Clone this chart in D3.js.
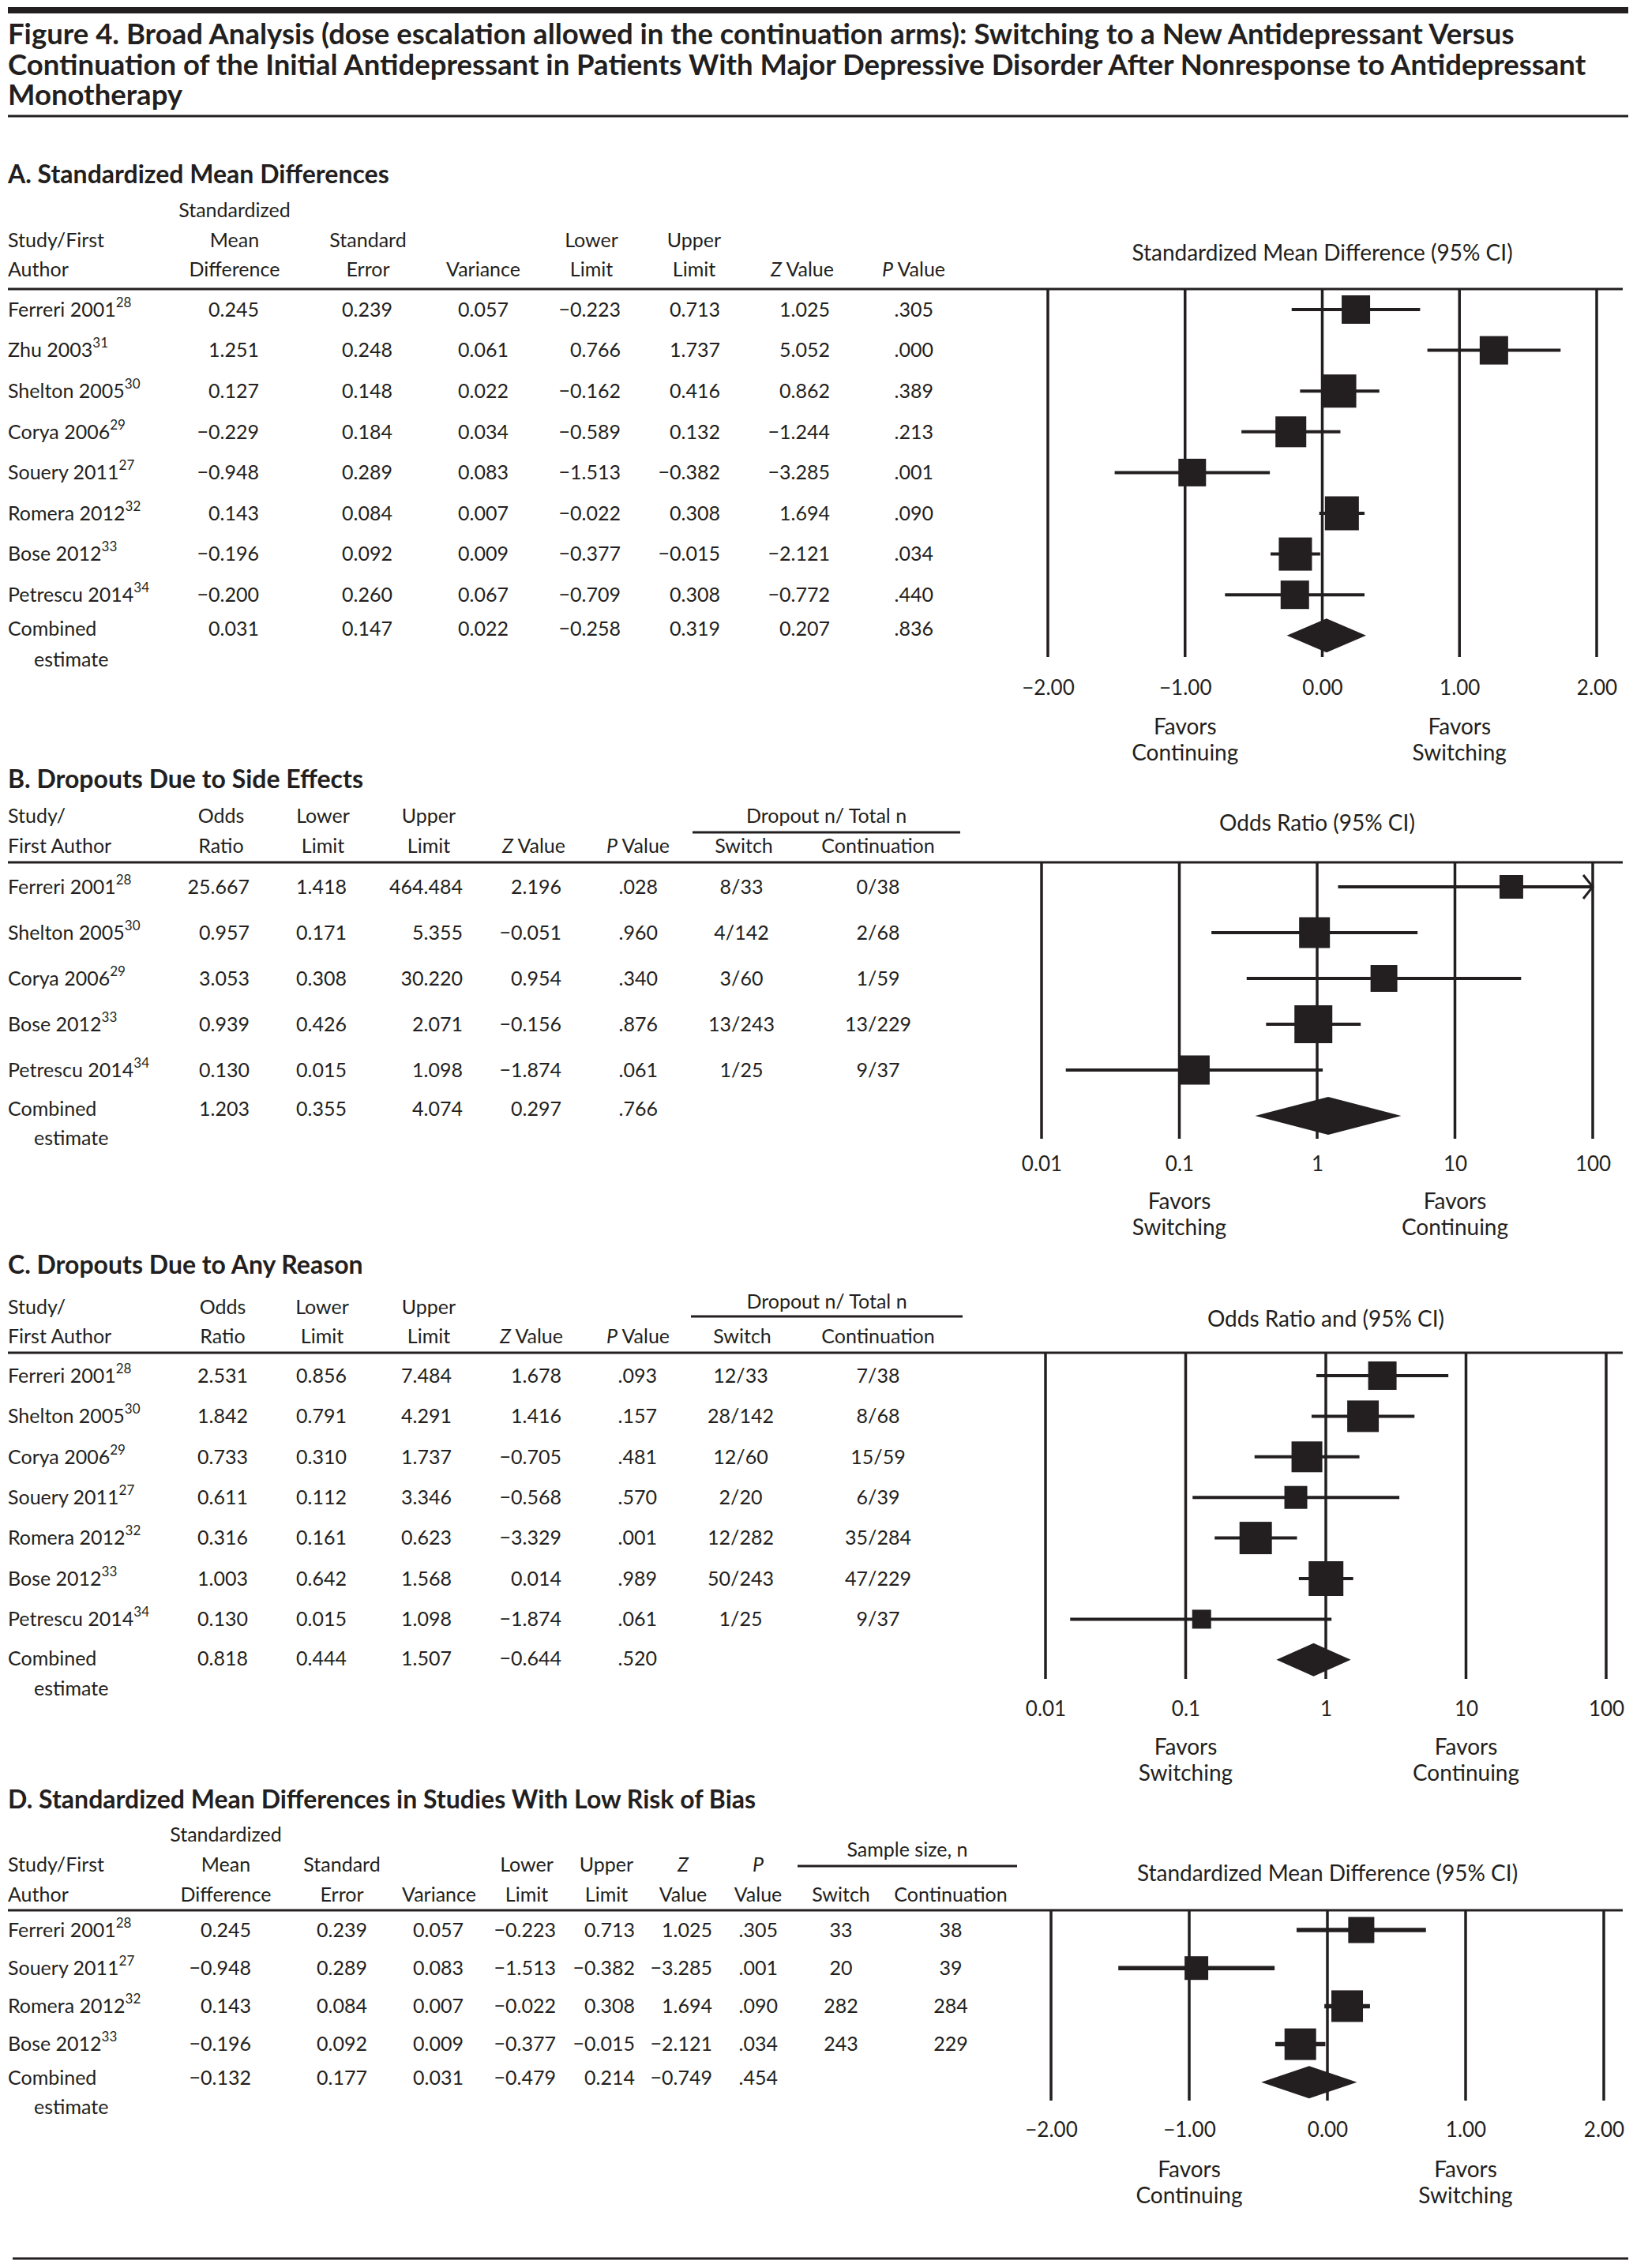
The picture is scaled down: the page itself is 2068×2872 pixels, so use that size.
<!DOCTYPE html>
<html>
<head>
<meta charset="utf-8">
<script src="https://cdn.jsdelivr.net/npm/d3@7"></script>
<style>
  body { margin: 0; background: #fff; }
</style>
</head>
<body>
<div id="chart"></div>
<script>
// ---------- data ----------
const titleLines = [
  "Figure 4. Broad Analysis (dose escalation allowed in the continuation arms): Switching to a New Antidepressant Versus",
  "Continuation of the Initial Antidepressant in Patients With Major Depressive Disorder After Nonresponse to Antidepressant",
  "Monotherapy"
];

// A. standardized mean differences
const aStudy = ["Ferreri 2001", "Zhu 2003", "Shelton 2005", "Corya 2006", "Souery 2011", "Romera 2012", "Bose 2012", "Petrescu 2014"];
const aRef = ["28", "31", "30", "29", "27", "32", "33", "34"];
const aSmd = [0.245, 1.251, 0.127, -0.229, -0.948, 0.143, -0.196, -0.200];
const aSe = [0.239, 0.248, 0.148, 0.184, 0.289, 0.084, 0.092, 0.260];
const aVar = [0.057, 0.061, 0.022, 0.034, 0.083, 0.007, 0.009, 0.067];
const aLow = [-0.223, 0.766, -0.162, -0.589, -1.513, -0.022, -0.377, -0.709];
const aUpp = [0.713, 1.737, 0.416, 0.132, -0.382, 0.308, -0.015, 0.308];
const aZ = [1.025, 5.052, 0.862, -1.244, -3.285, 1.694, -2.121, -0.772];
const aP = [0.305, 0.000, 0.389, 0.213, 0.001, 0.090, 0.034, 0.440];
const aWeight = [10.8, 10.8, 14.7, 12.7, 10.2, 15.4, 14.7, 10.8]; // relative, from box sizes
const aComb = [0.031, 0.147, 0.022, -0.258, 0.319, 0.207, 0.836]; // smd se var low upp z p

// B. dropouts due to side effects
const bStudy = ["Ferreri 2001", "Shelton 2005", "Corya 2006", "Bose 2012", "Petrescu 2014"];
const bRef = ["28", "30", "29", "33", "34"];
const bOr = [25.667, 0.957, 3.053, 0.939, 0.130];
const bLow = [1.418, 0.171, 0.308, 0.426, 0.015];
const bUpp = [464.484, 5.355, 30.220, 2.071, 1.098];
const bZ = [2.196, -0.051, 0.954, -0.156, -1.874];
const bP = [0.028, 0.960, 0.340, 0.876, 0.061];
const bSwitchN = [8, 4, 3, 13, 1];
const bSwitchTot = [33, 142, 60, 243, 25];
const bContN = [0, 2, 1, 13, 9];
const bContTot = [38, 68, 59, 229, 37];
const bWeight = [12.4, 21.0, 15.9, 31.8, 18.9];
const bComb = [1.203, 0.355, 4.074, 0.297, 0.766]; // or low upp z p

// C. dropouts due to any reason
const cStudy = ["Ferreri 2001", "Shelton 2005", "Corya 2006", "Souery 2011", "Romera 2012", "Bose 2012", "Petrescu 2014"];
const cRef = ["28", "30", "29", "27", "32", "33", "34"];
const cOr = [2.531, 1.842, 0.733, 0.611, 0.316, 1.003, 0.130];
const cLow = [0.856, 0.791, 0.310, 0.112, 0.161, 0.642, 0.015];
const cUpp = [7.484, 4.291, 1.737, 3.346, 0.623, 1.568, 1.098];
const cZ = [1.678, 1.416, -0.705, -0.568, -3.329, 0.014, -1.874];
const cP = [0.093, 0.157, 0.481, 0.570, 0.001, 0.989, 0.061];
const cSwitchN = [12, 28, 12, 2, 12, 50, 1];
const cSwitchTot = [33, 142, 60, 20, 282, 243, 25];
const cContN = [7, 8, 15, 6, 35, 47, 9];
const cContTot = [38, 68, 59, 39, 284, 229, 37];
const cWeight = [13.7, 16.9, 16.1, 8.9, 17.8, 20.5, 6.1];
const cComb = [0.818, 0.444, 1.507, -0.644, 0.520];

// D. SMD, low risk of bias
const dStudy = ["Ferreri 2001", "Souery 2011", "Romera 2012", "Bose 2012"];
const dRef = ["28", "27", "32", "33"];
const dSmd = [0.245, -0.948, 0.143, -0.196];
const dSe = [0.239, 0.289, 0.084, 0.092];
const dVar = [0.057, 0.083, 0.007, 0.009];
const dLow = [-0.223, -1.513, -0.022, -0.377];
const dUpp = [0.713, -0.382, 0.308, -0.015];
const dZ = [1.025, -3.285, 1.694, -2.121];
const dP = [0.305, 0.001, 0.090, 0.034];
const dSwitchN = [33, 20, 282, 243];
const dContN = [38, 39, 284, 229];
const dWeight = [21.0, 17.3, 30.8, 30.8];
const dComb = [-0.132, 0.177, 0.031, -0.479, 0.214, -0.749, 0.454];

const smdTicks = [-2, -1, 0, 1, 2];
const orTicks = [0.01, 0.1, 1, 10, 100];

// ---------- setup ----------
const W = 2068, H = 2872;
const FONT = "Lato, 'Open Sans', sans-serif";
const INK = "#231f20";
const fmt3 = d3.format(".3f");
const fmtP = v => fmt3(v).replace(/^0/, "");
const frac = (n, t) => n.map((v, i) => v + "/" + t[i]);

const svg = d3.select("#chart").append("svg")
  .attr("width", W).attr("height", H)
  .attr("font-family", FONT)
  .attr("fill", INK);

const hline = (g, x1, x2, y, sw) => g.append("line")
  .attr("x1", x1).attr("x2", x2).attr("y1", y).attr("y2", y)
  .attr("stroke", INK).attr("stroke-width", sw);

// text with *italic* parts
function rich(g, s, x, y, anchor, size) {
  const t = g.append("text").attr("x", x).attr("y", y).attr("dy", "0.35em")
    .attr("text-anchor", anchor).attr("font-size", size);
  s.split("*").forEach((part, i) => {
    if (part) t.append("tspan").attr("font-style", i % 2 ? "italic" : null).text(part);
  });
  return t;
}

// title
hline(svg, 10, 2062, 13, 8);
titleLines.forEach((s, i) => {
  svg.append("text").attr("x", 10).attr("y", 56 + i * 38.5)
    .attr("font-size", 36.5).attr("font-weight", 700).text(s);
});
hline(svg, 10, 2062, 147, 3);

function drawPanel(p) {
  const g = svg.append("g");
  const rowY = i => p.rowY0 + i * p.step;

  g.append("text").attr("x", 10).attr("y", p.titleY).attr("dy", "0.35em")
    .attr("font-size", 32).attr("font-weight", 700).text(p.title);

  p.headers.forEach(([s, x, y, anchor]) => rich(g, s, x, y, anchor || "middle", 25));
  if (p.span) {
    rich(g, p.span.text, (p.span.x1 + p.span.x2) / 2, p.span.y, "middle", 25);
    hline(g, p.span.x1, p.span.x2, p.span.lineY, 3);
  }
  hline(g, 10, 2055, p.ruleY, 3);

  // study labels
  p.studies.forEach((s, i) => {
    const t = g.append("text").attr("x", 10).attr("y", rowY(i)).attr("dy", "0.35em").attr("font-size", 25);
    t.append("tspan").text(s);
    t.append("tspan").attr("font-size", 17).attr("dy", "-0.7em").text(p.refs[i]);
  });
  g.append("text").attr("x", 10).attr("y", p.combY).attr("dy", "0.35em").attr("font-size", 25).text("Combined");
  g.append("text").attr("x", 43).attr("y", p.estY).attr("dy", "0.35em").attr("font-size", 25).text("estimate");

  // numeric columns
  p.cols.forEach(c => {
    g.append("g").selectAll("text").data(c.vals).join("text")
      .attr("x", c.x).attr("y", (d, i) => rowY(i)).attr("dy", "0.35em")
      .attr("text-anchor", c.anchor || "end").attr("font-size", 25)
      .text(d => d);
    if (c.comb) {
      g.append("text").attr("x", c.x).attr("y", p.combY).attr("dy", "0.35em")
        .attr("text-anchor", c.anchor || "end").attr("font-size", 25).text(c.comb);
    }
  });

  // forest plot
  const q = p.plot, x = q.scale;
  const [dMin, dMax] = x.domain();
  const gp = g.append("g");

  gp.append("text").attr("x", x(q.center)).attr("y", q.titleY).attr("dy", "0.35em")
    .attr("text-anchor", "middle").attr("font-size", 28).text(q.title);

  gp.append("g").selectAll("line").data(q.ticks).join("line")
    .attr("x1", d => x(d)).attr("x2", d => x(d))
    .attr("y1", p.ruleY).attr("y2", q.gridBottom)
    .attr("stroke", INK).attr("stroke-width", 3.5);

  gp.append("g").attr("transform", `translate(0,${q.tickY})`)
    .call(d3.axisBottom(x).tickValues(q.ticks).tickFormat(q.fmt).tickSize(0).tickPadding(0))
    .call(a => a.select(".domain").remove())
    .call(a => a.selectAll("text").attr("y", 0).attr("dy", "0.35em")
      .attr("font-size", 26).attr("font-family", FONT).attr("fill", INK));

  q.favors.forEach(([v, l1, l2]) => {
    gp.append("text").attr("x", x(v)).attr("y", q.favorsY).attr("dy", "0.35em")
      .attr("text-anchor", "middle").attr("font-size", 28).text(l1);
    gp.append("text").attr("x", x(v)).attr("y", q.favorsY + 33).attr("dy", "0.35em")
      .attr("text-anchor", "middle").attr("font-size", 28).text(l2);
  });

  const rows = q.est.map((e, i) => ({ est: e, lo: q.lo[i], hi: q.hi[i], w: q.w[i], y: rowY(i) }));
  const size = d3.scaleSqrt().domain([0, d3.max(q.w)]).range([0, q.boxMax]);

  gp.append("g").selectAll("line").data(rows).join("line")
    .attr("x1", d => x(Math.max(d.lo, dMin))).attr("x2", d => x(Math.min(d.hi, dMax)))
    .attr("y1", d => d.y).attr("y2", d => d.y)
    .attr("stroke", INK).attr("stroke-width", q.ciW);

  // arrow where the interval runs past the axis
  gp.append("g").selectAll("path").data(rows.filter(d => d.hi > dMax)).join("path")
    .attr("d", d => `M${x(dMax) - 12},${d.y - 15}L${x(dMax)},${d.y}L${x(dMax) - 12},${d.y + 15}`)
    .attr("fill", "none").attr("stroke", INK).attr("stroke-width", 3);

  gp.append("g").selectAll("rect").data(rows).join("rect")
    .attr("x", d => x(d.est) - size(d.w) / 2).attr("y", d => d.y - size(d.w) / 2)
    .attr("width", d => size(d.w)).attr("height", d => size(d.w))
    .attr("fill", INK);

  const [ce, cl, ch] = q.comb;
  const cy = rowY(q.est.length), hh = q.diamondH / 2;
  gp.append("path")
    .attr("d", `M${x(cl)},${cy}L${x(ce)},${cy - hh}L${x(ch)},${cy}L${x(ce)},${cy + hh}Z`)
    .attr("fill", INK);
}

const smdFmt = d3.format(".2f");
const orFmt = d => String(d);

// ---------- A ----------
drawPanel({
  title: "A. Standardized Mean Differences", titleY: 221,
  headers: [
    ["Standardized", 297, 266],
    ["Study/First", 10, 304, "start"], ["Mean", 297, 304], ["Standard", 466, 304], ["Lower", 749, 304], ["Upper", 879, 304],
    ["Author", 10, 341, "start"], ["Difference", 297, 341], ["Error", 466, 341], ["Variance", 612, 341],
    ["Limit", 749, 341], ["Limit", 879, 341], ["*Z* Value", 1016, 341], ["*P* Value", 1157, 341]
  ],
  ruleY: 366, rowY0: 392, step: 51.6, combY: 796, estY: 835,
  studies: aStudy, refs: aRef,
  cols: [
    { x: 328, vals: aSmd.map(fmt3), comb: fmt3(aComb[0]) },
    { x: 497, vals: aSe.map(fmt3), comb: fmt3(aComb[1]) },
    { x: 644, vals: aVar.map(fmt3), comb: fmt3(aComb[2]) },
    { x: 786, vals: aLow.map(fmt3), comb: fmt3(aComb[3]) },
    { x: 912, vals: aUpp.map(fmt3), comb: fmt3(aComb[4]) },
    { x: 1051, vals: aZ.map(fmt3), comb: fmt3(aComb[5]) },
    { x: 1182, vals: aP.map(fmtP), comb: fmtP(aComb[6]) }
  ],
  plot: {
    scale: d3.scaleLinear().domain([-2, 2]).range([1327, 2022]),
    ticks: smdTicks, fmt: smdFmt, center: 0,
    title: "Standardized Mean Difference (95% CI)", titleY: 320,
    gridBottom: 832, tickY: 871, favorsY: 920,
    favors: [[-1, "Favors", "Continuing"], [1, "Favors", "Switching"]],
    est: aSmd, lo: aLow, hi: aUpp, w: aWeight, comb: [aComb[0], aComb[3], aComb[4]],
    boxMax: 43, ciW: 4, diamondH: 43
  }
});

// ---------- B ----------
drawPanel({
  title: "B. Dropouts Due to Side Effects", titleY: 987,
  headers: [
    ["Study/", 10, 1033, "start"], ["Odds", 280, 1033], ["Lower", 409, 1033], ["Upper", 543, 1033],
    ["First Author", 10, 1071, "start"], ["Ratio", 280, 1071], ["Limit", 409, 1071], ["Limit", 543, 1071],
    ["*Z* Value", 676, 1071], ["*P* Value", 808, 1071], ["Switch", 942, 1071], ["Continuation", 1112, 1071]
  ],
  span: { text: "Dropout n/ Total n", x1: 877, x2: 1216, y: 1033, lineY: 1054 },
  ruleY: 1092, rowY0: 1123, step: 58, combY: 1404, estY: 1441,
  studies: bStudy, refs: bRef,
  cols: [
    { x: 316, vals: bOr.map(fmt3), comb: fmt3(bComb[0]) },
    { x: 439, vals: bLow.map(fmt3), comb: fmt3(bComb[1]) },
    { x: 586, vals: bUpp.map(fmt3), comb: fmt3(bComb[2]) },
    { x: 711, vals: bZ.map(fmt3), comb: fmt3(bComb[3]) },
    { x: 833, vals: bP.map(fmtP), comb: fmtP(bComb[4]) },
    { x: 939, anchor: "middle", vals: frac(bSwitchN, bSwitchTot) },
    { x: 1112, anchor: "middle", vals: frac(bContN, bContTot) }
  ],
  plot: {
    scale: d3.scaleLog().domain([0.01, 100]).range([1319, 2017]),
    ticks: orTicks, fmt: orFmt, center: 1,
    title: "Odds Ratio (95% CI)", titleY: 1042,
    gridBottom: 1442, tickY: 1474, favorsY: 1521,
    favors: [[0.1, "Favors", "Switching"], [10, "Favors", "Continuing"]],
    est: bOr, lo: bLow, hi: bUpp, w: bWeight, comb: [bComb[0], bComb[1], bComb[2]],
    boxMax: 48, ciW: 4, diamondH: 48
  }
});

// ---------- C ----------
drawPanel({
  title: "C. Dropouts Due to Any Reason", titleY: 1602,
  headers: [
    ["Study/", 10, 1655, "start"], ["Odds", 282, 1655], ["Lower", 408, 1655], ["Upper", 543, 1655],
    ["First Author", 10, 1692, "start"], ["Ratio", 282, 1692], ["Limit", 408, 1692], ["Limit", 543, 1692],
    ["*Z* Value", 673, 1692], ["*P* Value", 808, 1692], ["Switch", 940, 1692], ["Continuation", 1112, 1692]
  ],
  span: { text: "Dropout n/ Total n", x1: 875, x2: 1219, y: 1648, lineY: 1667 },
  ruleY: 1713, rowY0: 1742, step: 51.4, combY: 2100, estY: 2138,
  studies: cStudy, refs: cRef,
  cols: [
    { x: 314, vals: cOr.map(fmt3), comb: fmt3(cComb[0]) },
    { x: 439, vals: cLow.map(fmt3), comb: fmt3(cComb[1]) },
    { x: 572, vals: cUpp.map(fmt3), comb: fmt3(cComb[2]) },
    { x: 711, vals: cZ.map(fmt3), comb: fmt3(cComb[3]) },
    { x: 832, vals: cP.map(fmtP), comb: fmtP(cComb[4]) },
    { x: 938, anchor: "middle", vals: frac(cSwitchN, cSwitchTot) },
    { x: 1112, anchor: "middle", vals: frac(cContN, cContTot) }
  ],
  plot: {
    scale: d3.scaleLog().domain([0.01, 100]).range([1324, 2034]),
    ticks: orTicks, fmt: orFmt, center: 1,
    title: "Odds Ratio and (95% CI)", titleY: 1670,
    gridBottom: 2126, tickY: 2164, favorsY: 2212,
    favors: [[0.1, "Favors", "Switching"], [10, "Favors", "Continuing"]],
    est: cOr, lo: cLow, hi: cUpp, w: cWeight, comb: [cComb[0], cComb[1], cComb[2]],
    boxMax: 44, ciW: 4, diamondH: 42
  }
});

// ---------- D ----------
drawPanel({
  title: "D. Standardized Mean Differences in Studies With Low Risk of Bias", titleY: 2279,
  headers: [
    ["Standardized", 286, 2323],
    ["Study/First", 10, 2361, "start"], ["Mean", 286, 2361], ["Standard", 433, 2361], ["Lower", 667, 2361],
    ["Upper", 768, 2361], ["*Z*", 865, 2361], ["*P*", 960, 2361],
    ["Author", 10, 2399, "start"], ["Difference", 286, 2399], ["Error", 433, 2399], ["Variance", 556, 2399],
    ["Limit", 667, 2399], ["Limit", 768, 2399], ["Value", 865, 2399], ["Value", 960, 2399],
    ["Switch", 1065, 2399], ["Continuation", 1204, 2399]
  ],
  span: { text: "Sample size, n", x1: 1010, x2: 1288, y: 2342, lineY: 2363 },
  ruleY: 2419, rowY0: 2444, step: 48.2, combY: 2631, estY: 2668,
  studies: dStudy, refs: dRef,
  cols: [
    { x: 318, vals: dSmd.map(fmt3), comb: fmt3(dComb[0]) },
    { x: 465, vals: dSe.map(fmt3), comb: fmt3(dComb[1]) },
    { x: 587, vals: dVar.map(fmt3), comb: fmt3(dComb[2]) },
    { x: 704, vals: dLow.map(fmt3), comb: fmt3(dComb[3]) },
    { x: 804, vals: dUpp.map(fmt3), comb: fmt3(dComb[4]) },
    { x: 902, vals: dZ.map(fmt3), comb: fmt3(dComb[5]) },
    { x: 985, vals: dP.map(fmtP), comb: fmtP(dComb[6]) },
    { x: 1065, anchor: "middle", vals: dSwitchN.map(String) },
    { x: 1204, anchor: "middle", vals: dContN.map(String) }
  ],
  plot: {
    scale: d3.scaleLinear().domain([-2, 2]).range([1331, 2031]),
    ticks: smdTicks, fmt: smdFmt, center: 0,
    title: "Standardized Mean Difference (95% CI)", titleY: 2372,
    gridBottom: 2660, tickY: 2697, favorsY: 2747,
    favors: [[-1, "Favors", "Continuing"], [1, "Favors", "Switching"]],
    est: dSmd, lo: dLow, hi: dUpp, w: dWeight, comb: [dComb[0], dComb[3], dComb[4]],
    boxMax: 40, ciW: 5.5, diamondH: 41
  }
});

hline(svg, 16, 2062, 2860, 3);
</script>
</body>
</html>
